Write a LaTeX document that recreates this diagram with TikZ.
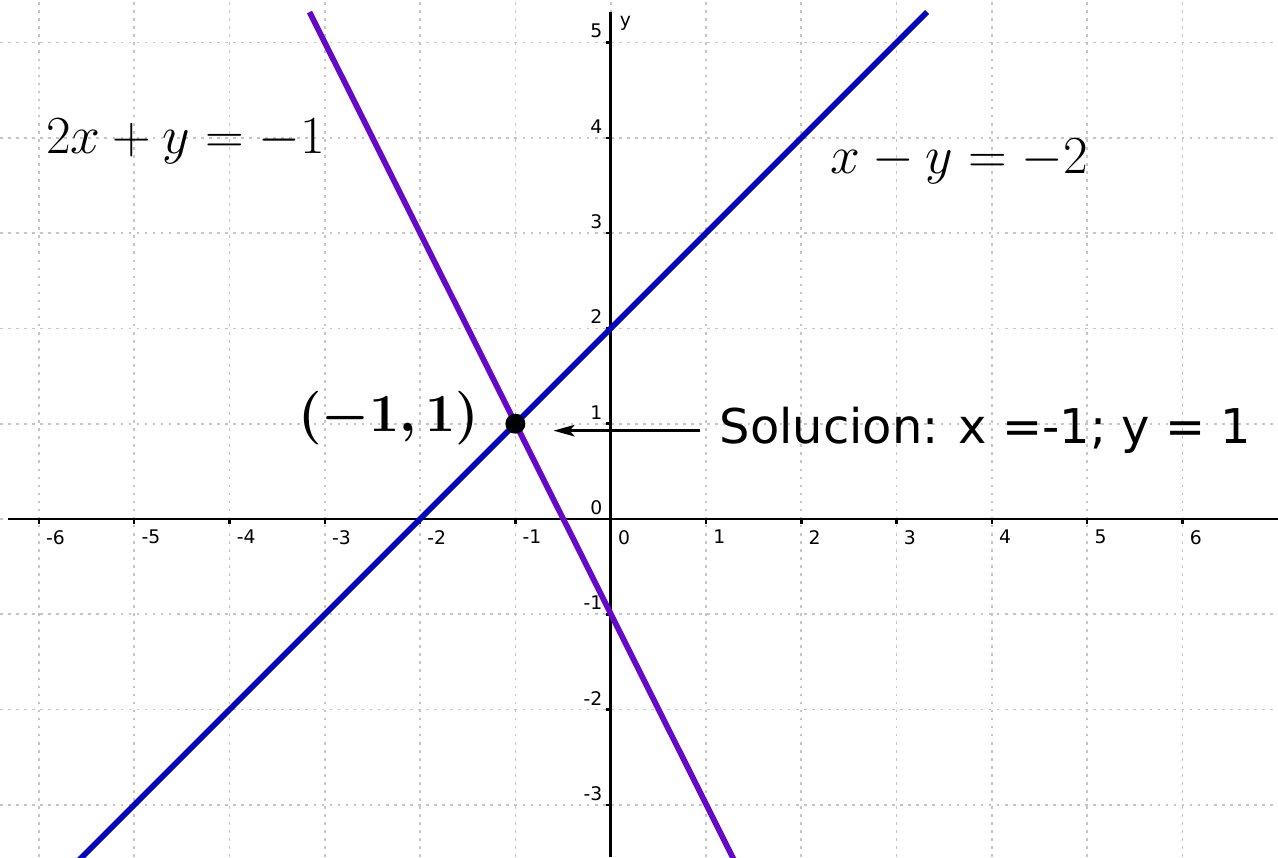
\documentclass[tikz,border=0pt]{standalone}
\usepackage{amsmath,bm}
\usepackage{fontspec}
\newfontfamily\labelfont{DejaVu Sans}
\usetikzlibrary{arrows.meta,positioning}
\definecolor{lineblue}{RGB}{5,5,190}
\definecolor{linepurple}{RGB}{102,8,204}
\tikzset{gridline/.style={gray!45,line width=0.5pt,dash pattern=on 0.8pt off 1.6pt},
  axisline/.style={line width=0.75pt},
  ticklab/.style={inner sep=0pt,font=\labelfont\fontsize{5.6}{7}\selectfont},
  graphline/.style={line width=1.7pt},
  eqlab/.style={inner sep=0pt,font=\fontsize{17.28}{20}\selectfont,scale=0.926},
  arr/.style={-{Stealth[length=2.2mm,width=1.2mm,inset=0.5mm]},line width=0.9pt}}

\begin{document}
\begin{tikzpicture}
\useasboundingbox (-6.408,-3.547) rectangle (7.002,5.446);
\clip (-6.408,-3.547) rectangle (7.002,5.446);
% grid
\foreach \x in {-6,...,6} \draw[gridline] (\x,-3.547) -- (\x,5.446);
\foreach \y in {-3,...,5} \draw[gridline] (-6.408,\y) -- (7.002,\y);
% axes and ticks
\draw[axisline] (-6.32,0) -- (7.002,0);
\draw[axisline] (0,-3.547) -- (0,5.32);
\foreach \x in {-6,...,6}{
  \ifnum\x=0 \else \draw[axisline] (\x,0) -- (\x,-0.05); \fi
  \node[ticklab,anchor=north west] (xl\x) at (\x+0.07,-0.11) {\x};
}
\foreach \y in {-3,...,5}{
  \ifnum\y=0 \else \draw[axisline] (0,\y) -- (-0.05,\y); \fi
  \node[ticklab,anchor=south east] (yl\y) at (-0.08,\y+0.04) {\y};
}
\node[ticklab,anchor=base west] (ylab) at (0.09,5.17) {y};
% the two lines
\draw[graphline,lineblue] (-5.65,-3.65) -- (3.32,5.32);
\draw[graphline,linepurple] (-3.16,5.32) -- (1.33,-3.65);
\node[eqlab,anchor=base west] (eqA) at (-5.93,3.84) {$2x+y=-1$};
\node[eqlab,anchor=base west] (eqB) at (2.30,3.63) {$x-y=-2$};
% solution
\node[circle,fill,inner sep=0pt,minimum size=2.1mm] (P) at (-1,1) {};
\node[eqlab,left=0.26cm of P,yshift=0.6mm] (Plab) {$\bm{(-1,1)}$};
\node[anchor=west,inner xsep=0.2cm,inner ysep=0pt,font=\labelfont\fontsize{14.3}{17}\selectfont] (sol) at (0.937,0.927) {Solucion: x =-1; y = 1};
\coordinate (tip) at (-0.6,0.927);
\draw[arr] (sol.west) -- (tip);
\end{tikzpicture}
\end{document}
